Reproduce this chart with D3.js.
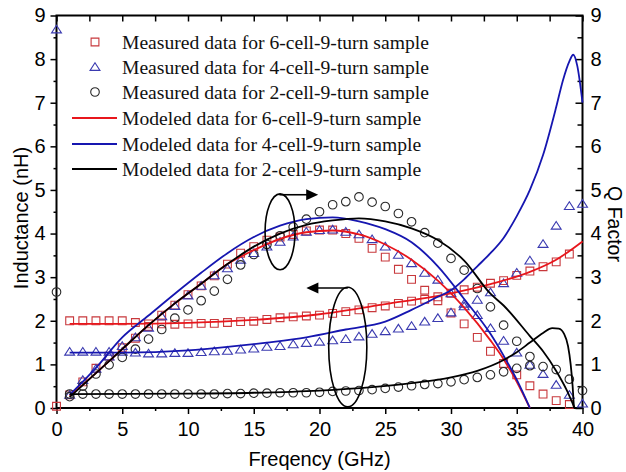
<!DOCTYPE html>
<html><head><meta charset="utf-8">
<script src="https://cdn.jsdelivr.net/npm/d3@7"></script>
<style>body{margin:0;background:#fff}</style></head>
<body>
<svg id="chart" width="626" height="472"></svg>
<script>
// ---------- DATA ----------
const freq = [0,1,2,3,4,5,6,7,8,9,10,11,12,13,14,15,16,17,18,19,20,21,22,23,24,25,26,27,28,29,30,31,32,33,34,35,36,37,38,39,40];
// measured inductance (nH)
const meas6L = [null,2.00,2.00,2.00,2.00,2.00,1.96,1.93,1.93,1.92,1.93,1.94,1.94,1.96,1.98,1.99,2.03,2.07,2.09,2.11,2.13,2.17,2.21,2.25,2.30,2.34,2.40,2.45,2.49,2.55,2.63,2.71,2.77,2.86,2.92,3.04,3.14,3.24,3.35,3.53,null];
const meas4L = [8.68,1.29,1.29,1.29,1.29,1.29,1.27,1.25,1.25,1.26,1.26,1.28,1.30,1.31,1.34,1.36,1.40,1.42,1.46,1.49,1.52,1.55,1.58,1.64,1.70,1.76,1.82,1.88,1.98,2.06,2.19,2.33,2.48,2.65,2.86,3.10,3.38,3.76,4.18,4.63,4.68];
const meas2L = [2.66,0.32,0.32,0.32,0.32,0.32,0.32,0.32,0.32,0.32,0.32,0.32,0.32,0.33,0.33,0.34,0.34,0.35,0.35,0.35,0.36,0.38,0.39,0.40,0.42,0.45,0.48,0.51,0.54,0.56,0.60,0.65,0.70,0.76,0.83,0.91,0.97,0.95,0.88,0.66,0.40];
// measured Q factor
const meas6Q = [0.04,0.30,0.60,0.91,1.19,1.38,1.60,1.87,2.13,2.36,2.60,2.80,3.03,3.30,3.55,3.70,3.85,3.92,3.98,4.06,4.08,4.08,4.00,3.89,3.66,3.46,3.18,2.95,2.70,2.46,2.18,1.93,1.62,1.30,1.02,0.76,0.51,0.32,0.17,0.08,null];
const meas4Q = [null,0.30,0.64,0.90,1.18,1.42,1.62,1.84,2.10,2.34,2.58,2.80,3.04,3.20,3.40,3.55,3.70,3.81,3.93,4.04,4.08,4.09,4.04,3.98,3.87,3.70,3.51,3.32,3.10,2.94,2.63,2.39,2.13,1.83,1.54,1.27,0.99,0.78,0.53,0.30,0.10];
const meas2Q = [null,0.26,0.50,0.78,0.99,1.16,1.35,1.58,1.80,2.06,2.25,2.46,2.68,2.95,3.28,3.52,3.75,3.95,4.15,4.33,4.50,4.66,4.73,4.84,4.72,4.62,4.46,4.27,4.02,3.78,3.43,3.16,2.74,2.32,1.90,1.53,1.18,null,null,null,null];

// modeled inductance
const mod6LFreq = [1,5,10,15,20,25,30,33,36,38,40];
const mod6L     = [1.93,1.93,1.95,2.02,2.15,2.38,2.63,2.84,3.12,3.40,3.82];
const mod4LFreq = [1,5,10,13,16,19,22,25,27,29,30,31,32,33,34,35,36,37,38,38.5,39,39.3,39.6,40];
const mod4L     = [1.27,1.27,1.32,1.40,1.50,1.62,1.80,1.98,2.25,2.55,2.70,2.95,3.25,3.55,3.90,4.40,5.00,5.80,6.90,7.50,7.95,8.10,7.85,7.00];
const mod2LFreq = [1,10,15,20,24,27,30,32,34,35,36,37,37.7,38.2,38.6,38.9,39.1,39.25,39.35];
const mod2L     = [0.32,0.33,0.35,0.40,0.48,0.57,0.70,0.85,1.10,1.28,1.50,1.72,1.83,1.82,1.70,1.42,1.00,0.50,0.00];
// modeled Q factor
const mod6QFreq = [1,3,5,7,9,11,13,15,17,19,21,23,25,27,29,31,33,34,35,36];
const mod6Q     = [0.27,0.80,1.35,1.90,2.40,2.85,3.30,3.62,3.88,4.03,4.07,3.98,3.75,3.40,2.92,2.30,1.55,1.12,0.60,0.00];
const mod4QFreq = [1,3,5,7,9,11,13,15,17,19,21,23,25,27,29,31,33,34,35,36];
const mod4Q     = [0.30,0.92,1.62,2.12,2.62,3.10,3.55,3.92,4.18,4.33,4.37,4.28,4.10,3.80,3.25,2.50,1.70,1.20,0.65,0.00];
const mod2QFreq = [1,3,5,7,9,11,13,15,17,19,21,23,25,27,29,31,33,34,36,37,38,38.8,39.4];
const mod2Q     = [0.25,0.80,1.35,1.90,2.40,2.85,3.30,3.70,4.00,4.20,4.30,4.35,4.28,4.12,3.85,3.38,2.62,2.35,1.65,1.30,0.85,0.41,0.00];

const legendLabels = [
  "Measured data for 6-cell-9-turn sample",
  "Measured data for 4-cell-9-turn sample",
  "Measured data for 2-cell-9-turn sample",
  "Modeled data for 6-cell-9-turn sample",
  "Modeled data for 4-cell-9-turn sample",
  "Modeled data for 2-cell-9-turn sample"
];
const xTicks = [0,5,10,15,20,25,30,35,40];
const yTicks = [0,1,2,3,4,5,6,7,8,9];

// ---------- STYLE / LAYOUT ----------
const C = {red:"#e8161c", blue:"#1616b0", black:"#000", sq:"#c8383c", tri:"#3a3ab0", cir:"#2a2a2a"};
const svg = d3.select("#chart");
const L = 56.5, R = 582.5, T = 15.5, B = 408;
const x = d3.scaleLinear().domain([0,40]).range([L,R]);
const yL = d3.scaleLinear().domain([0,9]).range([B,T]);
const yQ = d3.scaleLinear().domain([0,9]).range([B,T]);
const sansFont = "'Liberation Sans', Arial, sans-serif";
const serifFont = "'Liberation Serif', 'Times New Roman', serif";
const FS = 20;

function styleAxis(g){
  g.select(".domain").remove();
  g.selectAll(".tick line").attr("stroke","#000").attr("stroke-width",1.5);
  g.selectAll("text").attr("font-family",sansFont).attr("font-size",FS).attr("fill","#000");
}
const minorX = d3.range(0,41,2.5).filter(v=>v%5!==0);
const minorY = d3.range(0.5,9,1);

// bottom axis
svg.append("g").attr("transform",`translate(0,${B})`)
  .call(d3.axisBottom(x).tickValues(xTicks).tickSize(6).tickPadding(8).tickFormat(d3.format("d"))).call(styleAxis);
svg.append("g").attr("transform",`translate(0,${B})`)
  .call(d3.axisBottom(x).tickValues(minorX).tickSize(3).tickFormat("")).call(styleAxis);
// top axis (inward)
svg.append("g").attr("transform",`translate(0,${T})`)
  .call(d3.axisBottom(x).tickValues(d3.range(0,41,2.5)).tickSize(6).tickFormat("")).call(styleAxis);
// left axis
svg.append("g").attr("transform",`translate(${L},0)`)
  .call(d3.axisLeft(yL).tickValues(yTicks).tickSize(6).tickPadding(5).tickFormat(d3.format("d"))).call(styleAxis);
svg.append("g").attr("transform",`translate(${L},0)`)
  .call(d3.axisLeft(yL).tickValues(minorY).tickSize(3).tickFormat("")).call(styleAxis);
// right axis (inward ticks)
svg.append("g").attr("transform",`translate(${R},0)`)
  .call(d3.axisRight(yQ).tickValues(yTicks).tickSize(-7).tickPadding(8).tickFormat(d3.format("d"))).call(styleAxis);
svg.append("g").attr("transform",`translate(${R},0)`)
  .call(d3.axisRight(yQ).tickValues(minorY).tickSize(-5).tickFormat("")).call(styleAxis);

// frame
svg.append("rect").attr("x",L).attr("y",T).attr("width",R-L).attr("height",B-T)
  .attr("fill","none").attr("stroke","#000").attr("stroke-width",2);

// axis titles
svg.append("text").attr("x",(L+R)/2).attr("y",466).attr("text-anchor","middle")
  .attr("font-family",sansFont).attr("font-size",FS).text("Freqency (GHz)");
svg.append("text").attr("transform",`translate(28,218) rotate(-90)`).attr("text-anchor","middle")
  .attr("font-family",sansFont).attr("font-size",FS).text("Inductance (nH)");
svg.append("text").attr("transform",`translate(608,224) rotate(90)`).attr("text-anchor","middle")
  .attr("font-family",sansFont).attr("font-size",FS - 0.5).text("Q Factor");

// markers
const sqPath = s => `M${-s},${-s}H${s}V${s}H${-s}Z`;
const triPath = s => `M0,${-s*0.95}L${s*1.1},${s*0.75}L${-s*1.1},${s*0.75}Z`;
const cirPath = r => `M${r},0A${r},${r} 0 1,1 ${-r},0A${r},${r} 0 1,1 ${r},0Z`;
function drawMeas(vals, yS, path, color){
  svg.append("g").selectAll("path").data(freq.map((f,i)=>[f,vals[i]]).filter(d=>d[1]!==null))
    .join("path").attr("d",path).attr("transform",d=>`translate(${x(d[0])},${yS(d[1])})`)
    .attr("fill","none").attr("stroke",color).attr("stroke-width",1.1);
}
drawMeas(meas6L,yL,sqPath(3.9),C.sq);
drawMeas(meas6Q,yQ,sqPath(3.9),C.sq);
drawMeas(meas4L,yL,triPath(4.5),C.tri);
drawMeas(meas4Q,yQ,triPath(4.5),C.tri);
drawMeas(meas2L,yL,cirPath(4.3),C.cir);
drawMeas(meas2Q,yQ,cirPath(4.3),C.cir);

// modeled lines
function drawLine(fs, vs, yS, color){
  const line = d3.line().x(d=>x(d[0])).y(d=>yS(d[1])).curve(d3.curveMonotoneX);
  svg.append("path").datum(fs.map((f,i)=>[f,vs[i]])).attr("d",line)
    .attr("fill","none").attr("stroke",color).attr("stroke-width",1.8);
}
drawLine(mod6LFreq,mod6L,yL,C.red);
drawLine(mod6QFreq,mod6Q,yQ,C.red);
drawLine(mod4LFreq,mod4L,yL,C.blue);
drawLine(mod4QFreq,mod4Q,yQ,C.blue);
drawLine(mod2LFreq,mod2L,yL,C.black);
drawLine(mod2QFreq,mod2Q,yQ,C.black);

// annotations (ellipses + arrows), in data units
function ellipse(cf,cv,rf,rv){
  svg.append("ellipse").attr("cx",x(cf)).attr("cy",yQ(cv))
    .attr("rx",x(cf+rf)-x(cf)).attr("ry",yQ(cv-rv)-yQ(cv))
    .attr("fill","none").attr("stroke","#000").attr("stroke-width",1.6);
}
function arrow(f0,f1,v){
  const y0=yQ(v), x0=x(f0), x1=x(f1), dir=Math.sign(x1-x0);
  svg.append("line").attr("x1",x0).attr("y1",y0).attr("x2",x1-dir*9).attr("y2",y0)
    .attr("stroke","#000").attr("stroke-width",1.6);
  svg.append("path").attr("d",`M${x1},${y0}L${x1-dir*12},${y0-5.5}L${x1-dir*12},${y0+5.5}Z`).attr("fill","#000");
}
ellipse(17.0,4.04,1.14,0.87);
arrow(16.95,19.9,4.89);
ellipse(22.15,1.40,1.45,1.37);
arrow(22.15,19.0,2.75);

// legend
const legY = [42,67,92,118,144,169];
const lg = svg.append("g");
const mk = [[sqPath(3.9),C.sq],[triPath(4.5),C.tri],[cirPath(4.3),C.cir]];
mk.forEach((m,i)=>{
  lg.append("path").attr("d",m[0]).attr("transform",`translate(95,${legY[i]})`)
    .attr("fill","none").attr("stroke",m[1]).attr("stroke-width",1.1);
});
[C.red,C.blue,C.black].forEach((c,i)=>{
  lg.append("line").attr("x1",72).attr("x2",117).attr("y1",legY[i+3]).attr("y2",legY[i+3])
    .attr("stroke",c).attr("stroke-width",1.8);
});
legendLabels.forEach((t,i)=>{
  lg.append("text").attr("x",122).attr("y",legY[i]+6.5).attr("font-family",serifFont)
    .attr("font-size",19.6).attr("fill","#111").text(t);
});
</script>
</body></html>
